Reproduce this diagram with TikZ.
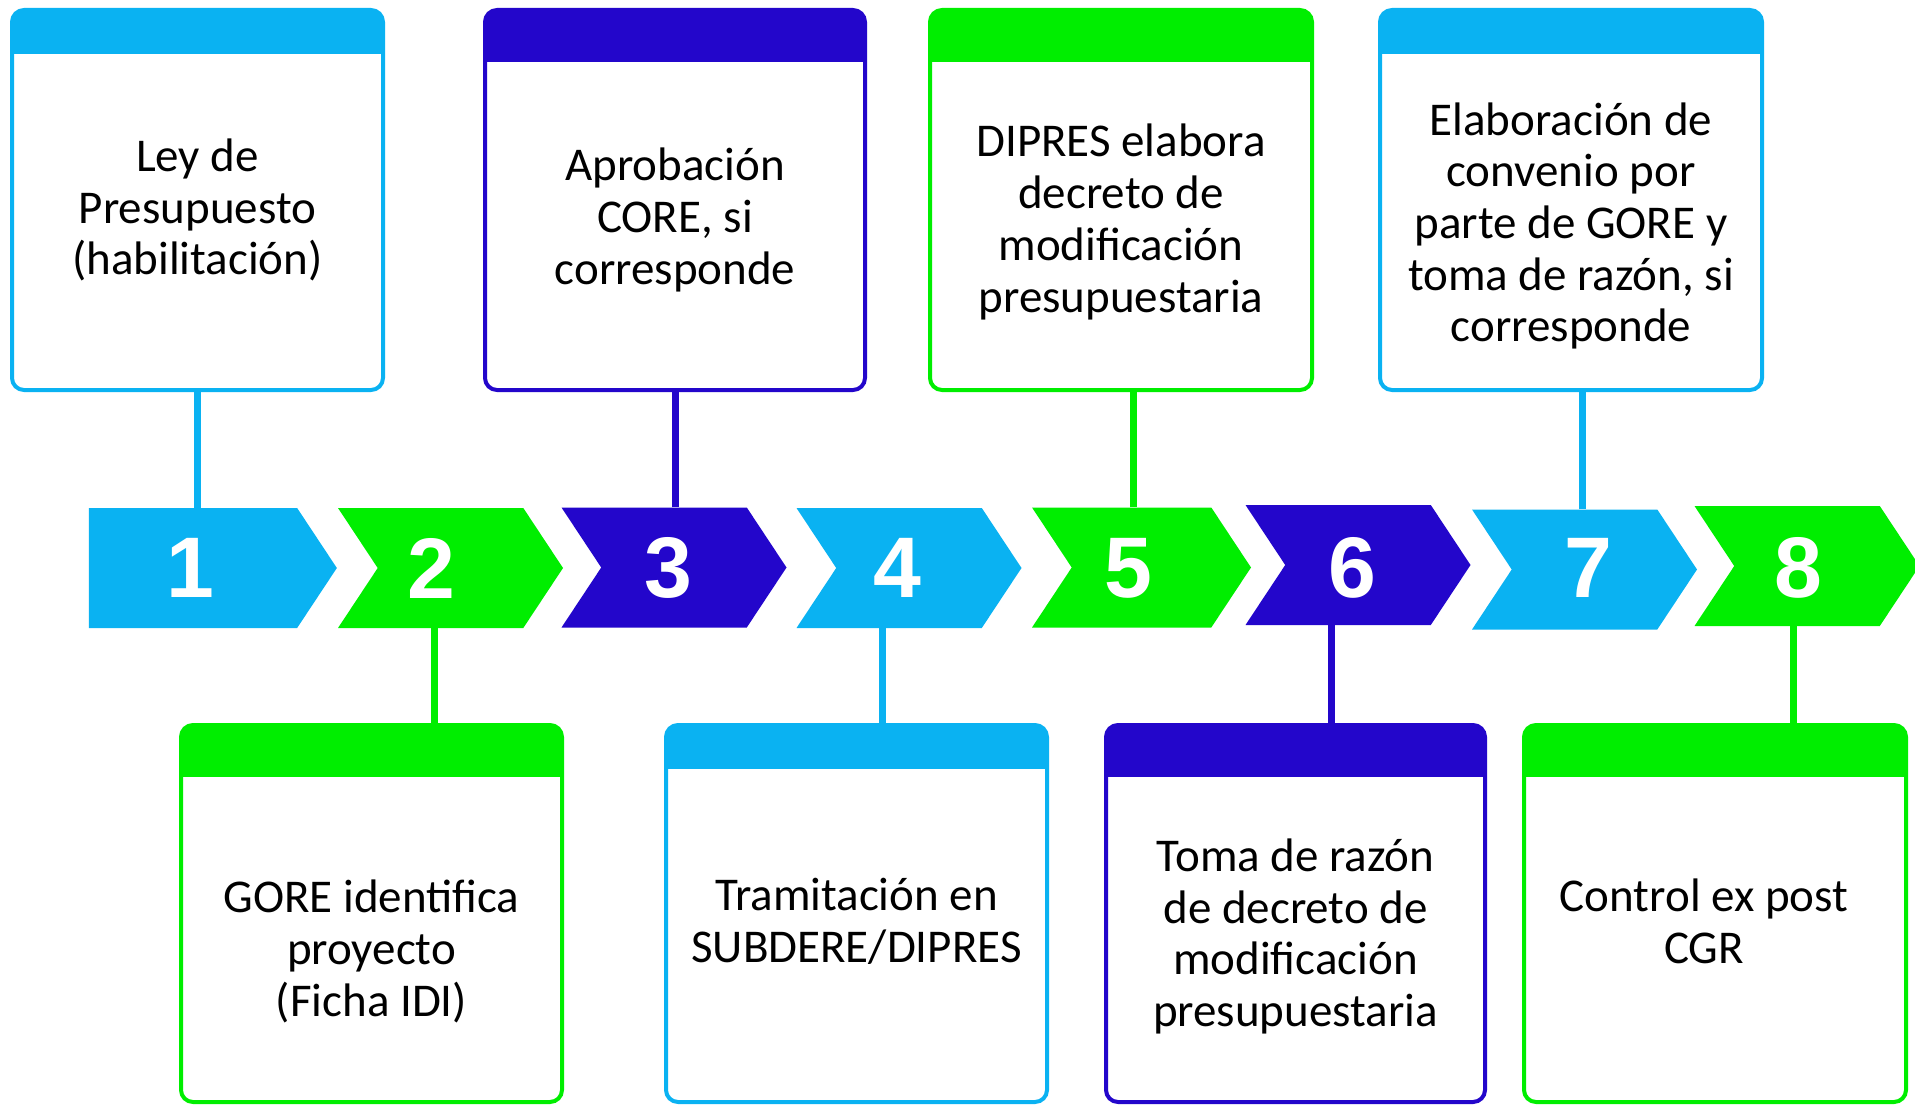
\documentclass[tikz,border=0pt]{standalone}
\usepackage{fontspec}
\setmainfont{Carlito}
\newfontfamily\numfont{Liberation Sans}
\usetikzlibrary{shapes.symbols,positioning}

\definecolor{stepcyan}{RGB}{10,178,242}
\definecolor{stepgreen}{RGB}{0,238,0}
\definecolor{stepindigo}{RGB}{35,6,203}

\tikzstyle{stepbox} = [rectangle, rounded corners=12pt, line width=4pt, fill=white, inner sep=0pt]
\tikzstyle{steptext} = [align=center, inner sep=0pt, font=\fontsize{47}{51.7}\selectfont]
\tikzstyle{chevron} = [signal, signal to=east, signal from=west, signal pointer angle=113, minimum height=120pt, minimum width=225pt, inner sep=0pt]
\tikzstyle{stepnum} = [text=white, inner sep=0pt, font=\numfont\bfseries\fontsize{86}{86}\selectfont]
\tikzstyle{steplink} = [line width=7pt]
\tikzset{boxhead/.style 2 args={draw=#1, path picture={\fill[#1, sharp corners] (path picture bounding box.north west) rectangle ([yshift=-#2]path picture bounding box.north east);}}}

\begin{document}
\begin{tikzpicture}[x=1pt,y=-1pt]
\useasboundingbox (0,0) rectangle (1915,1105);

% upper boxes
\node[stepbox, boxhead={stepcyan}{44pt}, minimum width=371pt, minimum height=380pt] (box1) at (197.5,200) {};
\node[steptext] (txt1) at ([yshift=-10pt]box1.center) {Ley de\\Presupuesto\\(habilitación)};
\node[stepbox, boxhead={stepindigo}{52pt}, minimum width=380pt, minimum height=380pt] (box3) at (675,200) {};
\node[steptext] (txt3) at ([yshift=-20pt]box3.center) {Aprobación\\CORE, si\\corresponde};
\node[stepbox, boxhead={stepgreen}{52pt}, minimum width=382pt, minimum height=380pt] (box5) at (1121,200) {};
\node[steptext] (txt5) at ([yshift=-22pt]box5.center) {DIPRES elabora\\decreto de\\modificación\\presupuestaria};
\node[stepbox, boxhead={stepcyan}{44pt}, minimum width=382pt, minimum height=380pt] (box7) at (1571,200) {};
\node[steptext] (txt7) at ([yshift=-26pt]box7.center) {Elaboración de\\convenio por\\parte de GORE y\\toma de razón, si\\corresponde};

% lower boxes
\node[stepbox, boxhead={stepgreen}{52pt}, minimum width=381pt, minimum height=377pt] (box2) at (371.5,913.5) {};
\node[steptext] (txt2) at ([yshift=-38pt]box2.center) {GORE identifica\\proyecto\\(Ficha IDI)};
\node[stepbox, boxhead={stepcyan}{44pt}, minimum width=381pt, minimum height=377pt] (box4) at (856.5,913.5) {};
\node[steptext] (txt4) at ([yshift=-8pt]box4.center) {Tramitación en\\SUBDERE/DIPRES};
\node[stepbox, boxhead={stepindigo}{52pt}, minimum width=379pt, minimum height=377pt] (box6) at (1295.5,913.5) {};
\node[steptext] (txt6) at ([yshift=-23pt]box6.center) {Toma de razón\\de decreto de\\modificación\\presupuestaria};
\node[stepbox, boxhead={stepgreen}{52pt}, minimum width=382pt, minimum height=377pt] (box8) at (1715,913.5) {};
\node[steptext] (txt8) at ([xshift=-11pt,yshift=-8pt]box8.center) {Control ex post\\CGR};

% arrows of the timeline
\node[chevron, signal from=nowhere, minimum width=248pt, fill=stepcyan] (chev1) at (193,568) {};
\node[chevron, fill=stepgreen] (chev2) at (450.5,568) {};
\node[chevron, fill=stepindigo] (chev3) at (674,567.5) {};
\node[chevron, fill=stepcyan] (chev4) at (909,568) {};
\node[chevron, minimum width=219pt, fill=stepgreen] (chev5) at (1141.5,567.5) {};
\node[chevron, fill=stepindigo] (chev6) at (1358,565) {};
\node[chevron, fill=stepcyan] (chev7) at (1584.5,569.5) {};
\node[chevron, fill=stepgreen] (chev8) at (1807,566) {};

\node[stepnum] (num1) at (190,568) {1};
\node[stepnum] (num2) at (431,568) {2};
\node[stepnum] (num3) at (668,568) {3};
\node[stepnum] (num4) at (897,568) {4};
\node[stepnum] (num5) at (1128,568) {5};
\node[stepnum] (num6) at (1352,568) {6};
\node[stepnum] (num7) at (1588,568) {7};
\node[stepnum] (num8) at (1798,568) {8};

% links
\draw[steplink, stepcyan] ([xshift=4pt]chev1.north) -- ([xshift=4pt]chev1.north |- box1.south);
\draw[steplink, stepgreen] ([xshift=-16.5pt]chev2.south) -- ([xshift=-16.5pt]chev2.south |- box2.north);
\draw[steplink, stepindigo] ([xshift=1pt]chev3.north) -- ([xshift=1pt]chev3.north |- box3.south);
\draw[steplink, stepcyan] ([xshift=-27pt]chev4.south) -- ([xshift=-27pt]chev4.south |- box4.north);
\draw[steplink, stepgreen] ([xshift=-8.5pt]chev5.north) -- ([xshift=-8.5pt]chev5.north |- box5.south);
\draw[steplink, stepindigo] ([xshift=-27pt]chev6.south) -- ([xshift=-27pt]chev6.south |- box6.north);
\draw[steplink, stepcyan] ([xshift=-2.5pt]chev7.north) -- ([xshift=-2.5pt]chev7.north |- box7.south);
\draw[steplink, stepgreen] ([xshift=-14pt]chev8.south) -- ([xshift=-14pt]chev8.south |- box8.north);
\end{tikzpicture}
\end{document}
